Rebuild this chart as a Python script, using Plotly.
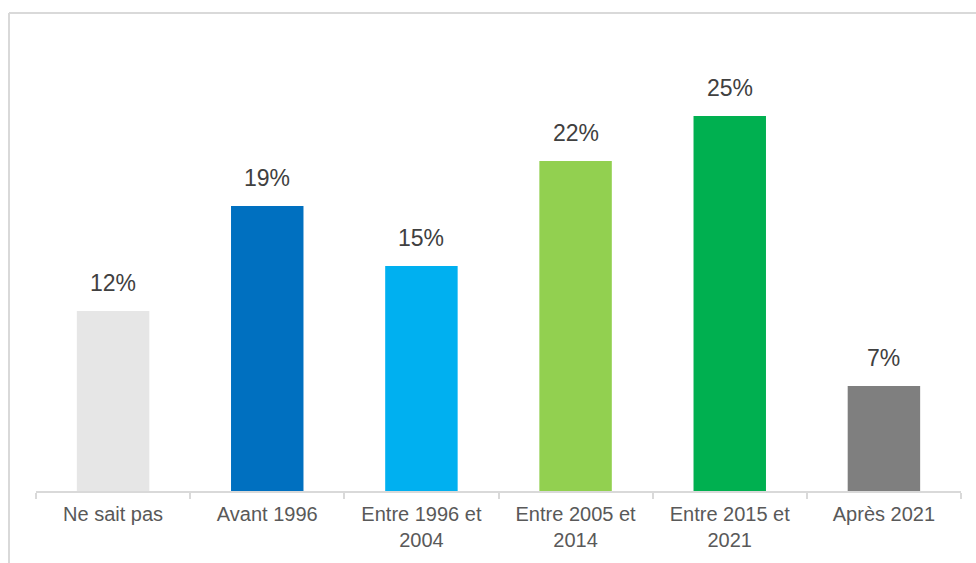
import plotly.graph_objects as go

categories = ["Ne sait pas", "Avant 1996", "Entre 1996 et<br>2004",
              "Entre 2005 et<br>2014", "Entre 2015 et<br>2021", "Après 2021"]
values = [12, 19, 15, 22, 25, 7]
labels = ["12%", "19%", "15%", "22%", "25%", "7%"]
colors = ["#e6e6e6", "#0070c0", "#00b0f0", "#92d050", "#00b050", "#7f7f7f"]

W, H = 976, 563
ml, mr, mt, mb = 36, 15, 41, 72
pw, ph = W - ml - mr, H - mt - mb
FONT = "Liberation Sans, Arial"

fig = go.Figure(go.Bar(
    x=categories, y=values, marker_color=colors, marker_line_width=0,
))

# value labels above each bar
for cat, val, lab in zip(categories, values, labels):
    fig.add_annotation(x=cat, y=val, text=lab, showarrow=False,
                       yanchor="bottom", yshift=13,
                       font=dict(family=FONT, size=23, color="#404040"))

def px_x(p):
    return (p - ml) / pw

def px_y(p):
    return (H - mb - p) / ph

# light frame along the top and left edges
frame = dict(color="#d9d9d9", width=2)
fig.add_shape(type="line", xref="paper", yref="paper",
              x0=px_x(9), x1=px_x(976), y0=px_y(13), y1=px_y(13), line=frame)
fig.add_shape(type="line", xref="paper", yref="paper",
              x0=px_x(9), x1=px_x(9), y0=px_y(13), y1=px_y(563), line=frame)

fig.update_layout(
    width=W, height=H,
    margin=dict(l=ml, r=mr, t=mt, b=mb),
    paper_bgcolor="white", plot_bgcolor="white",
    bargap=0.53, showlegend=False,
    font=dict(family=FONT, size=20, color="#595959"),
    xaxis=dict(type="category", tickson="boundaries", ticks="outside",
               ticklen=6, tickwidth=2, tickcolor="#d9d9d9",
               showline=True, linecolor="#d9d9d9", linewidth=2,
               showgrid=False, ticklabelstandoff=4, automargin=False,
               tickfont=dict(family=FONT, size=20, color="#595959")),
    yaxis=dict(range=[0, 30], visible=False, showgrid=False),
)

fig.write_html("out.html")
